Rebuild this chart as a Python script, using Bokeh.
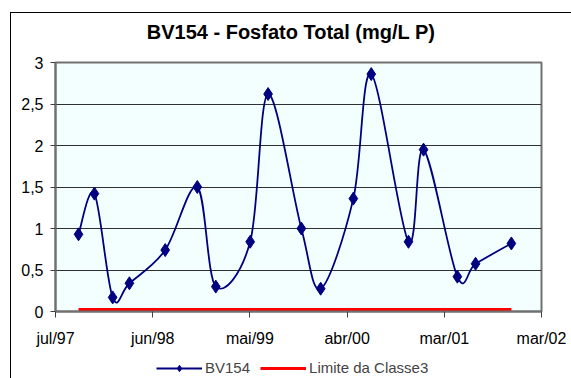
import numpy as np
from bokeh.plotting import figure
from bokeh.layouts import column
from bokeh.models import (Range1d, FixedTicker, Legend, LegendItem, ColumnDataSource, Label)
from bokeh.embed import file_html
from bokeh.resources import INLINE

# ---------------- data ----------------
title_text = "BV154 - Fosfato Total (mg/L P)"
series_name = "BV154"
limit_name = "Limite da Classe3"

sample_dates = ["1997-09-20", "1997-11-15", "1998-01-18", "1998-03-18", "1998-07-22",
                "1998-11-12", "1999-01-16", "1999-05-17", "1999-07-19", "1999-11-13",
                "2000-01-20", "2000-05-14", "2000-07-16", "2000-11-24", "2001-01-16",
                "2001-05-15", "2001-07-18", "2001-11-21"]
fosfato = [0.93, 1.42, 0.17, 0.34, 0.74, 1.50, 0.30, 0.84, 2.62, 1.00,
           0.275, 1.36, 2.86, 0.84, 1.95, 0.42, 0.575, 0.82]
limite_classe3 = 0.025

axis_start = "1997-07-01"
tick_step_days = 342
x_tick_labels = ["jul/97", "jun/98", "mai/99", "abr/00", "mar/01", "mar/02"]
y_ticks = [0, 0.5, 1, 1.5, 2, 2.5, 3]
y_tick_labels = ["0", "0,5", "1", "1,5", "2", "2,5", "3"]

# ---------------- derived ----------------
t0 = np.datetime64(axis_start)
xd = np.array([(np.datetime64(d) - t0).astype(int) for d in sample_dates], dtype=float)
yv = np.array(fosfato, dtype=float)
x_ticks = [i * tick_step_days for i in range(len(x_tick_labels))]

# smoothing control points (Catmull-Rom -> cubic Bezier), as Excel "smoothed line"
n = len(xd)
xp = np.concatenate([[xd[0]], xd, [xd[-1]]])
yp = np.concatenate([[yv[0]], yv, [yv[-1]]])
i = np.arange(n - 1)
bez = ColumnDataSource(dict(
    x0=xp[i + 1], y0=yp[i + 1], x1=xp[i + 2], y1=yp[i + 2],
    cx0=xp[i + 1] + (xp[i + 2] - xp[i]) / 6.0,
    cy0=yp[i + 1] + (yp[i + 2] - yp[i]) / 6.0,
    cx1=xp[i + 2] - (xp[i + 3] - xp[i + 1]) / 6.0,
    cy1=yp[i + 2] - (yp[i + 3] - yp[i + 1]) / 6.0,
))

FONT = "Liberation Sans"
NAVY = "#000080"
W = 571
FRAME_L, FRAME_R, FRAME_T, FRAME_H = 55, 541, 62, 249
HEAD_H, FOOT_H = 48, 20
MAIN_H = 378 - HEAD_H - FOOT_H


def bare(height, xr, yr):
    f = figure(width=W, height=height, output_backend="svg", toolbar_location=None,
               x_range=xr, y_range=yr, min_border=0, x_axis_type=None, y_axis_type=None)
    f.border_fill_alpha = 0
    f.background_fill_alpha = 0
    f.outline_line_color = None
    f.grid.visible = False
    return f


# ---------------- title strip (frame is aligned with the main plot's frame) ----------------
head = bare(HEAD_H, Range1d(FRAME_L, FRAME_R), Range1d(HEAD_H, 0))
head.add_layout(Label(x=290.5, y=31.5, text=title_text, text_align="center",
                      text_baseline="middle", text_font=FONT, text_font_size="20px",
                      text_font_style="bold", text_color="black"))

# ---------------- main plot ----------------
p = figure(width=W, height=MAIN_H, output_backend="svg", toolbar_location=None,
           x_range=Range1d(x_ticks[0], x_ticks[-1]), y_range=Range1d(0, 3),
           min_border_left=FRAME_L, min_border_right=W - FRAME_R,
           min_border_top=FRAME_T - HEAD_H,
           min_border_bottom=MAIN_H - (FRAME_T - HEAD_H) - FRAME_H)
p.border_fill_alpha = 0
p.background_fill_color = "#F3FEFF"
p.outline_line_color = "#707070"
p.outline_line_width = 2

xa = p.xaxis[0]
xa.ticker = FixedTicker(ticks=x_ticks)
xa.major_label_overrides = {t: l for t, l in zip(x_ticks, x_tick_labels)}
ya = p.yaxis[0]
ya.ticker = FixedTicker(ticks=y_ticks)
ya.major_label_overrides = {t: l for t, l in zip(y_ticks, y_tick_labels)}
for ax in (xa, ya):
    ax.axis_line_color = "#707070"
    ax.axis_line_width = 2
    ax.major_tick_line_color = "#404040"
    ax.major_tick_line_width = 1
    ax.major_tick_in = 0
    ax.minor_tick_line_color = None
    ax.major_label_text_font = FONT
    ax.major_label_text_font_size = "16px"
    ax.major_label_text_color = "black"
xa.major_tick_out = 6
xa.major_label_standoff = 12
ya.major_tick_out = 5
ya.major_label_standoff = 7

p.xgrid.grid_line_color = None
p.ygrid.ticker = FixedTicker(ticks=y_ticks)
p.ygrid.grid_line_color = "#303030"
p.ygrid.grid_line_width = 1

p.line(x=[xd[0], xd[-1]], y=[limite_classe3, limite_classe3],
       line_color="red", line_width=3)
p.bezier(x0="x0", y0="y0", x1="x1", y1="y1", cx0="cx0", cy0="cy0",
         cx1="cx1", cy1="cy1", source=bez, line_color=NAVY, line_width=1.8)
p.scatter(x=xd, y=yv, marker="diamond", size=13, fill_color=NAVY, line_color=NAVY)

# ---------------- legend strip ----------------
# proxies share the series data but fall outside this strip's ranges (legend swatches only)
foot = bare(FOOT_H, Range1d(-20000, -10000), Range1d(-20, -10))
lp = foot.line(x=xd, y=yv, line_color=NAVY, line_width=1.8)
sp = foot.scatter(x=xd, y=yv, marker="diamond", size=13, fill_color=NAVY, line_color=NAVY)
rp = foot.line(x=[xd[0], xd[-1]], y=[limite_classe3, limite_classe3],
               line_color="red", line_width=3)
legend = Legend(items=[LegendItem(label=series_name, renderers=[lp, sp]),
                       LegendItem(label=limit_name, renderers=[rp])],
                orientation="horizontal", location=(156 - FRAME_L, 2),
                border_line_color=None, background_fill_alpha=0,
                label_text_font=FONT, label_text_font_size="15px",
                glyph_width=46, glyph_height=16, label_standoff=3,
                spacing=10, padding=0, margin=0, label_height=16)
foot.add_layout(legend, "center")

layout = column(head, p, foot, spacing=0)
layout.styles = {
    "background-color": "white",
    "background-image": "linear-gradient(black, black), linear-gradient(black, black)",
    "background-size": "1px 100%, 100% 1px",
    "background-position": "10px 12px, 10px 12px",
    "background-repeat": "no-repeat",
}

open("out.html", "w").write(file_html(layout, INLINE))
